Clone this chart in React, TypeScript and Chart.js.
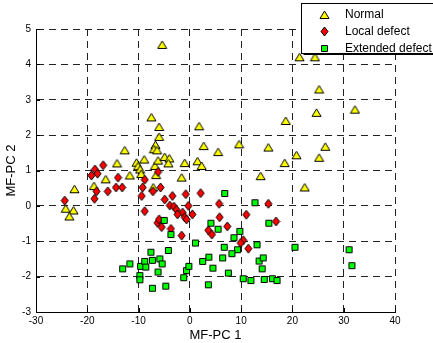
import React, { useEffect, useRef } from "react";
import { Chart, registerables } from "chart.js";

Chart.register(...registerables);

const FONT = "'Liberation Sans', Arial, Helvetica, sans-serif";

const seriesLabels = ["Normal", "Local defect", "Extended defect"];
const xTitle = "MF-PC 1";
const yTitle = "MF-PC 2";
const xRange = [-30, 40];
const yRange = [-3, 5];
const xStep = 10;
const yStep = 1;

const normalX = [
  -5.4, -7.5, -6.0, -6.0, -6.7, -7.0, -6.4, -12.7, -14.2, -10.4, -8.9, -10.1, -6.8, -6.2, -4.9, -4.0, -4.2, -1.0,
  -9.7, -9.5, -6.6, -1.6, -7.15, -11.7, -16.4, -18.7, -22.5, -24.2, -22.7, -23.5,
  1.8, 2.7, 1.5, 2.3, 5.5, 9.6, 15.3, 18.7, 21.4, 24.4, 25.2, 24.7, 32.2, 26.4, 20.8, 25.2, 18.5, 13.8, 22.4,
];
const normalY = [
  4.55, 2.5, 2.23, 1.95, 1.72, 1.6, 1.57, 1.57, 1.2, 1.22, 1.31, 1.12, 1.13, 1.28, 1.38, 1.34, 1.2, 1.21,
  1.03, 0.9, 0.87, 0.8, 0.52, 0.86, 0.75, 0.56, 0.47, -0.08, -0.13, -0.3,
  2.25, 1.69, 1.26, 1.13, 1.52, 1.74, 1.65, 2.4, 4.2, 4.2, 3.29, 2.63, 2.72, 1.67, 1.43, 1.36, 1.21, 0.84, 0.52,
];

const localX = [
  -24.4, -19.2, -18.5, -18.0, -16.9, -18.2, -18.6, -16.0, -14.0, -14.4, -13.2, -8.8, -9.2, -9.4, -6.2, -7.2,
  -5.7, -8.8, -4.9, -3.4, -0.8, 2.1, -3.9, -3.1, -2.6, -1.4, -0.3, 0.5, -1.0, -0.65, -2.4, -6.3, -6.0, -5.5,
  -3.7, -1.6, 3.6, 4.3, 5.7, 5.8, 15.3, 11.0, 16.8, 7.3, 10.4, 9.9, 11.4,
];
const localY = [
  0.15, 0.86, 1.03, 0.91, 1.15, 0.41, 0.2, 0.41, 0.8, 0.52, 0.52, 0.74, 0.52, 0.28, 0.96, 0.41,
  0.52, -0.15, 0.18, 0.28, 0.33, 0.36, 0.01, -0.02, -0.11, -0.19, 0.0, -0.24, -0.32, -0.38, -0.24, -0.48, -0.38, -0.6,
  -0.65, -0.84, -0.69, -0.81, 0.06, -0.32, 0.06, -0.25, -0.44, -0.58, -0.97, -1.05, -1.21,
];

const extendedX = [
  -5.0, -3.7, 1.1, -4.2, -7.6, -13.1, -11.7, -9.6, -8.8, -8.6, -7.3, -5.85, -5.4, -9.75, -9.75, -6.2, -7.3,
  -4.7, -1.2, -0.65, -0.2, 2.5, 3.7, 4.5, 3.6, 4.1, 5.5, 6.8, 12.7, 15.4, 9.75, 8.6, 6.7, 9.3, 8.2, 6.4,
  13.1, 13.5, 14.3, 14.1, 7.5, 10.4, 11.9, 14.5, 16.1, 17.0, 20.5, 31.05, 31.6,
];
const extendedY = [
  -0.41, -0.81, -1.05, -1.26, -1.31, -1.78, -1.64, -1.71, -1.57, -1.73, -1.54, -1.5, -1.64, -1.97, -2.09, -1.87, -2.33,
  -2.27, -2.03, -1.83, -1.71, -1.57, -1.45, -1.76, -2.23, -0.49, -0.66, 0.35, 0.09, -0.49, -0.72, -0.9, -1.17, -1.24, -1.35, -1.47,
  -1.1, -1.56, -1.47, -1.78, -1.9, -2.06, -2.11, -2.08, -2.06, -2.11, -1.17, -1.24, -1.69,
];

function makeMarker(kind: string): HTMLCanvasElement {
  const c = document.createElement("canvas");
  const ctx = c.getContext("2d")!;
  if (kind === "triangle") {
    c.width = 11; c.height = 10;
    ctx.beginPath();
    ctx.moveTo(1, 8.5); ctx.lineTo(5.5, 1.0); ctx.lineTo(10, 8.5); ctx.closePath();
    ctx.fillStyle = "#FFFF00";
  } else if (kind === "diamond") {
    c.width = 9; c.height = 11;
    ctx.beginPath();
    ctx.moveTo(4.5, 1); ctx.lineTo(8, 5.5); ctx.lineTo(4.5, 10); ctx.lineTo(1, 5.5); ctx.closePath();
    ctx.fillStyle = "#FF0000";
  } else {
    c.width = 9; c.height = 9;
    ctx.beginPath();
    ctx.rect(1.5, 1.5, 6, 6);
    ctx.fillStyle = "#00FF00";
  }
  ctx.fill();
  ctx.lineWidth = 1;
  ctx.strokeStyle = "#000";
  ctx.stroke();
  return c;
}

function pts(xs: number[], ys: number[]) {
  return xs.map((x, i) => ({ x, y: ys[i] }));
}

export default function App() {
  const ref = useRef<HTMLCanvasElement | null>(null);
  useEffect(() => {
    const markers = [makeMarker("triangle"), makeMarker("diamond"), makeMarker("square")];

    const overlay = {
      id: "overlay",
      beforeDatasetsDraw(chart: any) {
        const { ctx, chartArea: a, scales } = chart;
        ctx.save();
        ctx.strokeStyle = "#000";
        ctx.lineWidth = 1;
        ctx.beginPath();
        for (let v = xRange[0]; v <= xRange[1]; v += xStep) {
          const px = Math.round(scales.x.getPixelForValue(v)) + 0.5;
          ctx.moveTo(px, a.bottom);
          ctx.lineTo(px, a.bottom - 4);
        }
        for (let v = yRange[0]; v <= yRange[1]; v += yStep) {
          const py = Math.round(scales.y.getPixelForValue(v)) + 0.5;
          ctx.moveTo(a.left, py);
          ctx.lineTo(a.left + 4, py);
        }
        ctx.stroke();
        ctx.restore();
      },
      afterDraw(chart: any) {
        const { ctx } = chart;
        ctx.save();
        const bx = 301.5, by = 3.5, bw = 145, bh = 50;
        ctx.fillStyle = "#fff";
        ctx.fillRect(bx, by, bw, bh);
        ctx.strokeStyle = "#000";
        ctx.lineWidth = 1;
        ctx.strokeRect(bx, by, bw, bh);
        ctx.beginPath();
        ctx.moveTo(bx + 2, by + bh + 1);
        ctx.lineTo(bx + bw + 2, by + bh + 1);
        ctx.stroke();
        const rowY = [14.5, 31.5, 48];
        ctx.font = `12px ${FONT}`;
        ctx.fillStyle = "#000";
        ctx.textBaseline = "middle";
        ctx.textAlign = "left";
        seriesLabels.forEach((lab, i) => {
          const m = markers[i];
          ctx.drawImage(m, Math.round(324 - m.width / 2), Math.round(rowY[i] - m.height / 2));
          ctx.fillStyle = "#000";
          ctx.fillText(lab, 345, rowY[i] + 0.5);
        });
        ctx.restore();
      },
    };

    const chart = new Chart(ref.current!, {
      type: "scatter",
      data: {
        datasets: [
          { label: seriesLabels[0], data: pts(normalX, normalY), pointStyle: markers[0] as any, pointRadius: 5, order: 3 },
          { label: seriesLabels[1], data: pts(localX, localY), pointStyle: markers[1] as any, pointRadius: 5, order: 2 },
          { label: seriesLabels[2], data: pts(extendedX, extendedY), pointStyle: markers[2] as any, pointRadius: 5, order: 1 },
        ],
      },
      options: {
        animation: false,
        responsive: false,
        devicePixelRatio: 1,
        layout: { padding: { top: 29, right: 38, left: 0, bottom: 0 } },
        plugins: { legend: { display: false }, tooltip: { enabled: false } },
        scales: {
          x: {
            type: "linear",
            min: xRange[0],
            max: xRange[1],
            afterFit: (s: any) => { s.height = 31; },
            ticks: { stepSize: xStep, color: "#000", font: { family: FONT, size: 10 }, padding: 3 },
            grid: { color: "#222", lineWidth: 1, drawTicks: false },
            border: { display: true, color: "#000", width: 1, dash: [7, 5] },
            title: { display: true, text: xTitle, color: "#000", font: { family: FONT, size: 13 }, padding: { top: 0, bottom: 0 } },
          },
          y: {
            type: "linear",
            min: yRange[0],
            max: yRange[1],
            afterFit: (s: any) => { s.width = 36; },
            ticks: { stepSize: yStep, color: "#000", font: { family: FONT, size: 10 }, padding: 5 },
            grid: { color: "#222", lineWidth: 1, drawTicks: false },
            border: { display: true, color: "#000", width: 1, dash: [7, 5] },
            title: { display: true, text: yTitle, color: "#000", font: { family: FONT, size: 13 }, padding: { top: 4, bottom: 0 } },
          },
        },
      },
      plugins: [overlay],
    });
    return () => chart.destroy();
  }, []);

  return (
    <div style={{ position: "absolute", left: 0, top: 0, width: 433, height: 343, background: "#fff" }}>
      <canvas ref={ref} width={433} height={343} style={{ display: "block" }} />
    </div>
  );
}
